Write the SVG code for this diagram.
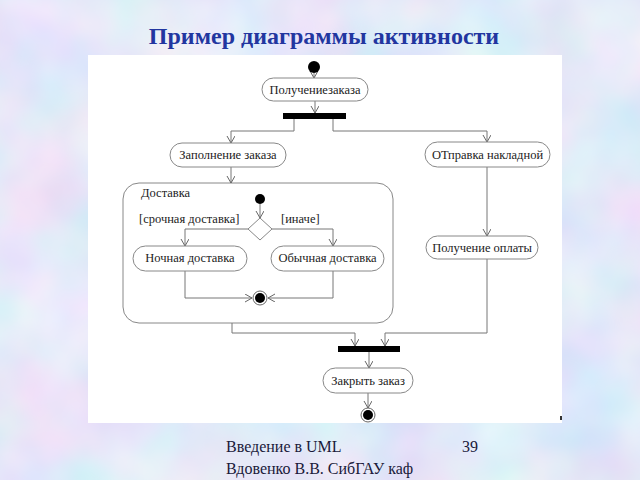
<svg xmlns="http://www.w3.org/2000/svg" width="640" height="480" viewBox="0 0 640 480">
<defs>
<filter id="bgtex" x="0" y="0" width="100%" height="100%">
<feTurbulence type="fractalNoise" baseFrequency="0.011" numOctaves="3" seed="7"/>
<feColorMatrix type="matrix" values="0.45 0 0 0 0.55  0 0.3 0 0 0.66  0 0 0.12 0 0.88  0 0 0 0 1"/>
</filter>
<marker id="arr" markerUnits="userSpaceOnUse" markerWidth="9" markerHeight="10" refX="7" refY="4" orient="auto">
<path d="M0,0 L7,4 L0,8" fill="none" stroke="#666" stroke-width="1"/>
</marker>
<style>
.box{fill:#fff;stroke:#888;stroke-width:1}
.t{font-family:"Liberation Serif","DejaVu Serif",serif;font-size:12.5px;fill:#222;text-anchor:middle}
.tl{font-family:"Liberation Serif","DejaVu Serif",serif;font-size:12.5px;fill:#222}
.c{fill:none;stroke:#777;stroke-width:1;marker-end:url(#arr)}
.bar{fill:#000}
.foot{font-family:"Liberation Serif","Times New Roman",serif;font-size:16px;fill:#1a1a3a}
</style>
</defs>
<rect width="640" height="480" filter="url(#bgtex)"/>
<text x="324" y="44" text-anchor="middle" style="font-family:'Liberation Serif','Times New Roman',serif;font-size:24px;font-weight:bold;fill:#2236a0">Пример диаграммы активности</text>
<rect x="88" y="55" width="474" height="368" fill="#fff"/>
<rect x="560" y="416" width="2" height="4" fill="#333"/>

<g id="delivery">
<rect x="123" y="183" width="270" height="140" rx="16" fill="none" stroke="#888"/>
<text class="tl" x="141" y="197">Доставка</text>
</g>

<g id="connectors">
<path class="c" d="M314,73 V78"/>
<path class="c" d="M315,101 V113"/>
<path class="c" d="M294,119 V131 H231 V143"/>
<path class="c" d="M333,119 V131 H487 V142"/>
<path class="c" d="M231,167 V183"/>
<path class="c" d="M487,167 V236"/>
<path class="c" d="M487,259 V333 H385 V346"/>
<path class="c" d="M232,323 V333 H355 V346"/>
<path class="c" d="M369,352 V368"/>
<path class="c" d="M368,393 V408"/>
<path class="c" d="M260,204 V218"/>
<path class="c" d="M248,229 H185 V246"/>
<path class="c" d="M272,229 H333 V246"/>
<path class="c" d="M185,271 V298 H252"/>
<path class="c" d="M333,271 V298 H268"/>
</g>

<g id="start1"><circle cx="314" cy="67" r="6" fill="#000"/></g>
<g id="receive"><rect class="box" x="262" y="78" width="106" height="23" rx="11.5"/><text class="t" x="315" y="94">Получениезаказа</text></g>
<g id="fork1"><rect class="bar" x="283" y="113" width="63" height="6"/></g>
<g id="fill"><rect class="box" x="170" y="143" width="116" height="24" rx="12"/><text class="t" x="228" y="159">Заполнение заказа</text></g>
<g id="invoice"><rect class="box" x="425" y="142" width="125" height="25" rx="12.5"/><text class="t" x="487.5" y="159">ОТправка накладной</text></g>
<g id="payment"><rect class="box" x="426" y="236" width="112" height="23" rx="11.5"/><text class="t" x="482" y="252">Получение оплаты</text></g>

<g id="start2"><circle cx="260" cy="199" r="5" fill="#000"/></g>
<g id="decision"><polygon class="box" points="260,218 272,229 260,240 248,229"/>
<text class="tl" x="139" y="223">[срочная доставка]</text>
<text class="tl" x="281" y="223">[иначе]</text>
</g>
<g id="night"><rect class="box" x="133" y="246" width="114" height="25" rx="12.5"/><text class="t" x="190" y="262">Ночная доставка</text></g>
<g id="normal"><rect class="box" x="271" y="246" width="113" height="25" rx="12.5"/><text class="t" x="327.5" y="262">Обычная доставка</text></g>
<g id="final1"><circle cx="260" cy="298" r="7" fill="#fff" stroke="#666"/><circle cx="260" cy="298" r="5" fill="#000"/></g>

<g id="fork2"><rect class="bar" x="338" y="346" width="62" height="6"/></g>
<g id="close"><rect class="box" x="323" y="368" width="90" height="25" rx="12.5"/><text class="t" x="368" y="385">Закрыть заказ</text></g>
<g id="final2"><circle cx="368" cy="415" r="7" fill="#fff" stroke="#666"/><circle cx="368" cy="415" r="5" fill="#000"/></g>

<text class="foot" x="226" y="452">Введение в UML</text>
<text class="foot" x="462" y="452">39</text>
<text class="foot" x="226" y="474">Вдовенко В.В. СибГАУ каф</text>
</svg>
